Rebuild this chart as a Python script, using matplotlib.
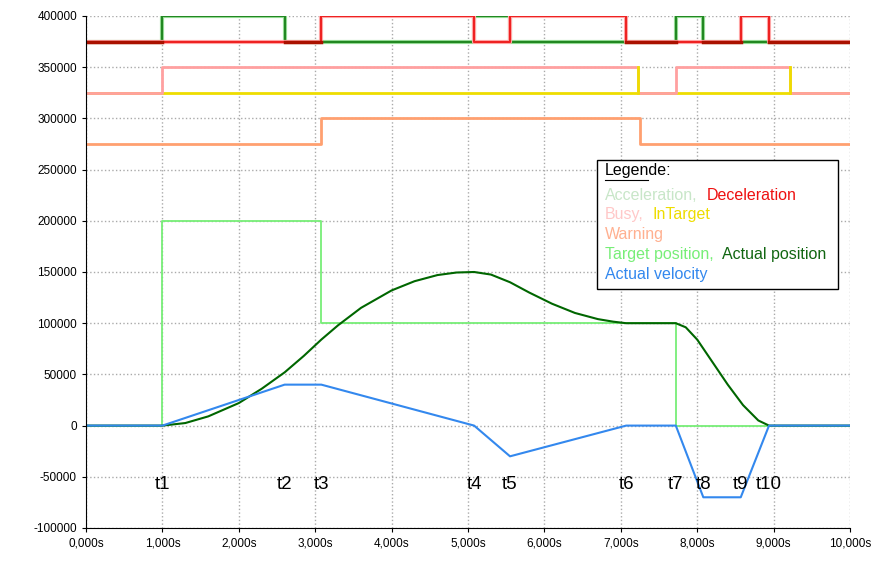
import matplotlib
matplotlib.use("Agg")
import matplotlib.pyplot as plt
from matplotlib.ticker import FuncFormatter

plt.rcParams["font.family"] = "Liberation Sans"

t_marks = [1.0, 2.6, 3.08, 5.08, 5.55, 7.07, 7.72, 8.08, 8.57, 8.94]
t_labels = ["t1", "t2", "t3", "t4", "t5", "t6", "t7", "t8", "t9", "t10"]

accel_t = [0, 1.0, 2.6, 5.08, 5.55, 7.72, 8.08, 10]
accel_v = [375000, 400000, 375000, 400000, 375000, 400000, 375000, 375000]
decel_t = [0, 3.08, 5.08, 5.55, 7.07, 8.57, 8.94, 10]
decel_v = [375000, 400000, 375000, 400000, 375000, 400000, 375000, 375000]
busy_t = [0, 1.0, 7.22, 7.72, 9.22, 10]
busy_v = [325000, 350000, 325000, 350000, 325000, 325000]
warn_t = [0, 3.08, 7.25, 10]
warn_v = [275000, 300000, 275000, 275000]
target_t = [0, 1.0, 3.08, 7.72, 10]
target_v = [0, 200000, 100000, 0, 0]
pos_t = [0, 1.0, 1.3, 1.6, 2.0, 2.3, 2.6, 2.85, 3.08, 3.3, 3.6, 4.0, 4.3, 4.6, 4.85, 5.08, 5.3, 5.55, 5.8, 6.1, 6.4, 6.7, 6.9, 7.07, 7.72, 7.85, 8.0, 8.2, 8.4, 8.6, 8.8, 8.94, 10]
pos_v = [0, 0, 2500, 9000, 22000, 36000, 52000, 68000, 84000, 98000, 115000, 132000, 141000, 147000, 149500, 150000, 147500, 140000, 130000, 119000, 110000, 104000, 101500, 100000, 100000, 96000, 84000, 62000, 40000, 20000, 5000, 0, 0]
vel_t = [0, 1.0, 2.6, 3.08, 5.08, 5.55, 7.07, 7.72, 8.08, 8.57, 8.94, 10]
vel_v = [0, 0, 40000, 40000, 0, -30000, 0, 0, -70000, -70000, 0, 0]

fig = plt.figure(figsize=(8.77, 5.65), dpi=100)
ax = fig.add_axes([86/877, 1-528/565, (850-86)/877, (528-16)/565])

ax.step(warn_t, warn_v, where="post", color="#ffa070", lw=2)
ax.plot([0, 10], [325000, 325000], color="#eedd00", lw=2)
ax.step(busy_t, busy_v, where="post", color="#ffa0a0", lw=2)
ax.plot([7.22, 7.22], [325000, 350000], color="#eedd00", lw=2)
ax.plot([9.22, 9.22], [325000, 350000], color="#eedd00", lw=2)
ax.step(accel_t, accel_v, where="post", color="#99dd99", lw=3)
ax.step(accel_t, accel_v, where="post", color="#228822", lw=1.5)
ax.step(decel_t, decel_v, where="post", color="#ffaaaa", lw=3)
ax.step(decel_t, decel_v, where="post", color="#ee2222", lw=1.5)
for a, b in [(0, 1.0), (2.6, 3.08), (7.07, 7.72), (8.08, 8.57), (8.94, 10)]:
    ax.plot([a, b], [375000, 375000], color="#aa1100", lw=2.5)
ax.step(target_t, target_v, where="post", color="#77ee77", lw=1.3)
ax.plot(pos_t, pos_v, color="#006600", lw=1.5)
ax.plot(vel_t, vel_v, color="#3388ee", lw=1.5)

for t, lab in zip(t_marks, t_labels):
    ax.text(t, -58000, lab, ha="center", va="center", fontsize=13.5)

ax.set_xlim(0, 10)
ax.set_ylim(-100000, 400000)
ax.set_xticks(range(0, 11))
ax.set_yticks(range(-100000, 400001, 50000))
ax.xaxis.set_major_formatter(FuncFormatter(lambda v, p: f"{v:.3f}".replace(".", ",") + "s"))
ax.yaxis.set_major_formatter(FuncFormatter(lambda v, p: f"{int(v)}"))
ax.tick_params(labelsize=8.5, length=3)
ax.grid(True, color="#aaaaaa", linestyle=":", lw=1)
for s in ["top", "right"]:
    ax.spines[s].set_visible(False)

def yp(py):
    return 400000 - (py - 16) * 100000 / 102.4

ax.add_patch(plt.Rectangle((6.69, yp(289)), 3.15, yp(160) - yp(289), facecolor="white",
                           edgecolor="black", lw=1, zorder=5))
fs = 11.5
ax.text(6.79, yp(171), "Legende:", fontsize=fs, color="black", zorder=6, va="center")
ax.plot([6.79, 7.35], [yp(180), yp(180)], color="black", lw=0.8, zorder=6)
rows = [
    [("Acceleration,", "#c8e6c8", 6.79), ("Deceleration", "#ee1111", 8.12)],
    [("Busy,", "#ffc8c8", 6.79), ("InTarget", "#eedd00", 7.41)],
    [("Warning", "#ffb090", 6.79)],
    [("Target position,", "#77ee77", 6.79), ("Actual position", "#116611", 8.32)],
    [("Actual velocity", "#3388ee", 6.79)],
]
for i, row in enumerate(rows):
    y = yp(195 + i * 20)
    for txt, col, x in row:
        ax.text(x, y, txt, fontsize=fs, color=col, zorder=6, va="center")

fig.savefig("out.png")
